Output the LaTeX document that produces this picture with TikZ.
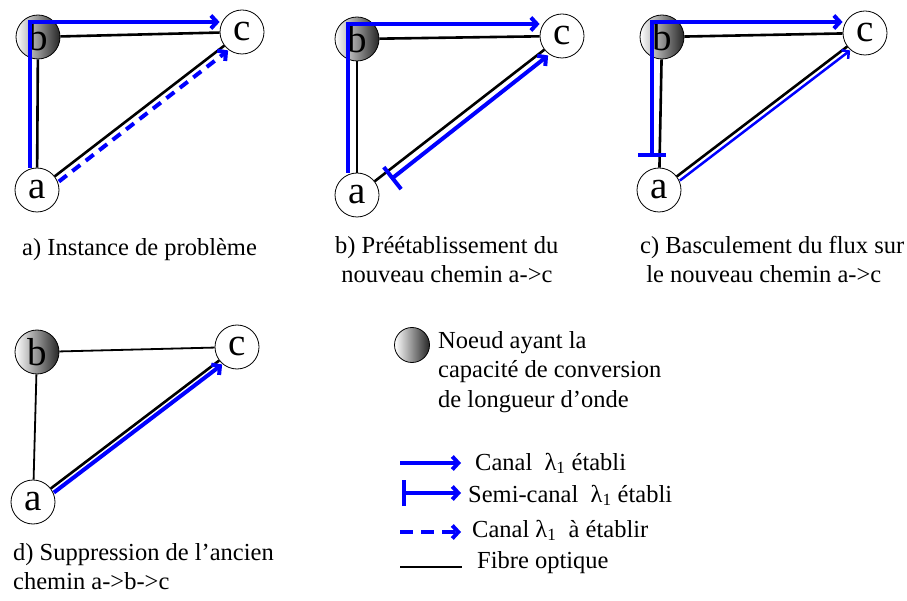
\documentclass[tikz,border=0pt]{standalone}
\usepackage{fontspec}
\setmainfont{Liberation Serif}
\usetikzlibrary{arrows.meta}
\begin{document}
\begin{tikzpicture}[
		x=1pt, y=-1pt,
		vertex/.style={circle, draw, line width=0.8pt, fill=white, inner sep=0pt, minimum size=44pt, font=\fontsize{39}{39}\selectfont},
		convert/.style={vertex, left color=white, right color=black!85},
		fibre/.style={line width=2.6pt},
		fibre fine/.style={line width=1.8pt},
		canal/.style={blue, line width=4pt, -{Straight Barb[length=6pt, width=13pt]}},
		canal fin/.style={blue, line width=2.5pt, -{Straight Barb[length=5pt, width=11pt]}},
		semi/.style={canal, {Bar[width=28pt]}-{Straight Barb[length=6pt, width=13pt]}},
		a etablir/.style={canal, dash pattern=on 10pt off 7pt},
		caption/.style={anchor=north west, inner sep=0pt, align=left, font=\fontsize{24.5}{29.5}\selectfont},
		legend/.style={anchor=base west, inner sep=0pt, font=\fontsize{24.5}{29.5}\selectfont}
		]
		\useasboundingbox (0,0) rectangle (907,601);
		
		% ---- a) instance ----
		\node[convert] (b1) at (38, 37) {b};
		\node[vertex]  (c1) at (242,32) {c};
		\node[vertex]  (a1) at (37,190) {a};
		
		\draw[fibre] (b1)--(c1);
		\draw[fibre] (b1)--(a1);
		\draw[fibre] (a1)--(c1);
		
		\draw[canal] ([xshift=-7pt]a1.north) |- ([yshift=10pt]c1.west);
		\draw[a etablir] ([shift={(4,5)}]a1.37) -- ([shift={(4,5)}]c1.217);
		
		\node[caption] (capa) at (22,238) {a) Instance de problème};
		
		% ---- b) preetablissement ----
		\node[convert] (b2) at (357, 39) {b};
		\node[vertex]  (c2) at (562,36) {c};
		\node[vertex]  (a2) at (357,195) {a};
		
		\draw[fibre] (b2)--(c2);
		\draw[fibre] (b2)--(a2);
		\draw[fibre] (a2)--(c2);
		
		\draw[canal] ([xshift=-9pt]a2.north) |- ([yshift=12pt]c2.west);
		\draw[semi, shorten <=14pt] ([shift={(5,6.5)}]a2.37) -- ([shift={(4,6)}]c2.217);
		
		\node[caption] (capb) at (335,236) {b) Préétablissement du\\~nouveau chemin a->c};
		
		% ---- c) basculement ----
		\node[convert] (b3) at (662, 37) {b};
		\node[vertex]  (c3) at (865,33) {c};
		\node[vertex]  (a3) at (659,190) {a};
		
		\draw[fibre] (b3)--(c3);
		\draw[fibre] (b3)--(a3);
		\draw[fibre] (a3)--(c3);
		
		\draw[semi] ([shift={(-7,-11)}]a3.north) |- ([yshift=11pt]c3.west);
		\draw[canal fin] ([shift={(3,4)}]a3.37) -- ([shift={(3,4)}]c3.217);
		
		\node[caption] (capc) at (640,236) {c) Basculement du flux sur\\~le nouveau chemin a->c};
		
		% ---- d) suppression ----
		\node[convert] (b4) at (37,352) {b};
		\node[vertex]  (c4) at (237,347) {c};
		\node[vertex]  (a4) at (33,502) {a};
		
		\draw[fibre fine] (b4)--(c4);
		\draw[fibre fine] (b4)--(a4);
		\draw[fibre] (a4)--(c4);
		
		\draw[canal] ([shift={(3,4)}]a4.37) -- ([shift={(3,4)}]c4.217);
		
		\node[caption] (capd) at (13,543) {d) Suppression de l’ancien\\chemin a->b->c};
		
		% ---- legende ----
		\node[convert, minimum size=35pt] (boule) at (412,345) {};
		\node[caption] (tboule) at (438,331) {Noeud ayant la\\capacité de conversion\\de longueur d’onde};
		
		\coordinate (l1a) at (400,463);
		\coordinate (l1b) at (461,463);
		\coordinate (l2a) at (402,493);
		\coordinate (l2b) at (461,493);
		\coordinate (l3a) at (400,532);
		\coordinate (l3b) at (461,532);
		\coordinate (l4a) at (400,567);
		\coordinate (l4b) at (462,567);
		
		\draw[canal] (l1a)--(l1b);
		\draw[semi, {Bar[width=26pt]}-{Straight Barb[length=6pt, width=13pt]}] (l2a)--(l2b);
		\draw[a etablir, dash pattern=on 13pt off 8pt] (l3a)--(l3b);
		\draw[fibre] (l4a)--(l4b);
		
		\node[legend] (t1) at (475,470) {Canal~~λ\textsubscript{1} établi};
		\node[legend] (t2) at (468,502) {Semi-canal~~λ\textsubscript{1} établi};
		\node[legend] (t3) at (472,537) {Canal λ\textsubscript{1}~~à établir};
		\node[legend] (t4) at (477,568) {Fibre optique};
	\end{tikzpicture}
\end{document}
